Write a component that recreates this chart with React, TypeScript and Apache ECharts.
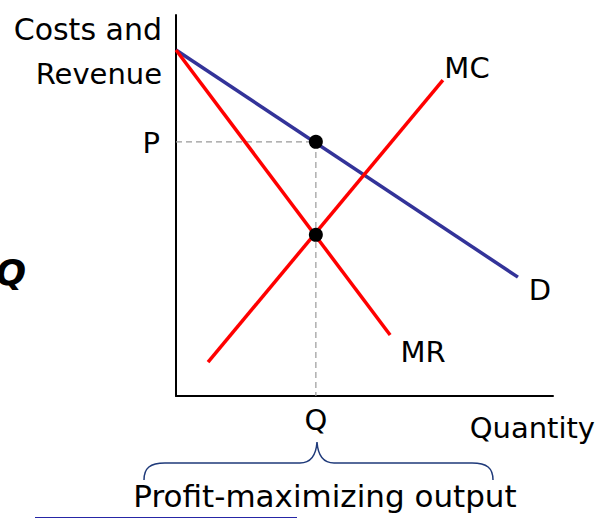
import React, { useEffect, useRef } from "react";
import * as echarts from "echarts";

// Data in chart units (x: quantity 0..10, y: costs/revenue 0..10)
const demandCurve: number[][] = [[0, 9.08], [9.07, 3.12]];
const marginalRevenue: number[][] = [[0, 9.08], [5.68, 1.6]];
const marginalCost: number[][] = [[0.85, 0.89], [7.08, 8.29]];
const equilibriumPoints: number[][] = [[3.71, 6.67], [3.71, 4.23]];
const priceGuide: number[][] = [[0, 6.67], [3.71, 6.67], [3.71, 0]];

const FONT = "DejaVu Sans";

echarts.graphic.registerShape(
  "brace",
  echarts.graphic.extendPath(
    "M144,480 C144,468 150,463 165,463 L300,463 C311,463 316,456 317,442 C318,456 323,463 334,463 L472,463 C487,463 493,468 493,480",
    {}
  )
);

export default function App() {
  const ref = useRef<HTMLDivElement>(null);
  useEffect(() => {
    if (!ref.current) return;
    const chart = echarts.init(ref.current, null, { renderer: "svg" });
    const txt = (text: string, x: number, y: number, align: string, size = 29, extra: any = {}) => ({
      type: "text",
      x,
      y,
      style: {
        text,
        fontSize: size,
        fontFamily: FONT,
        fill: "#000",
        align,
        verticalAlign: "middle",
        ...extra,
      },
    });
    chart.setOption({
      animation: false,
      backgroundColor: "#fff",
      grid: { left: 176, right: 45, top: 15, bottom: 123 },
      xAxis: {
        type: "value",
        min: 0,
        max: 10,
        axisLine: { show: true, lineStyle: { color: "#000", width: 2 } },
        axisTick: { show: false },
        axisLabel: { show: false },
        splitLine: { show: false },
      },
      yAxis: {
        type: "value",
        min: 0,
        max: 10,
        axisLine: { show: true, lineStyle: { color: "#000", width: 2 } },
        axisTick: { show: false },
        axisLabel: { show: false },
        splitLine: { show: false },
      },
      series: [
        {
          type: "line",
          data: priceGuide,
          symbol: "none",
          lineStyle: { color: "#999", width: 1.2, type: [6, 4] },
          z: 1,
        },
        {
          type: "line",
          data: demandCurve,
          symbol: "none",
          lineStyle: { color: "#333399", width: 3.5 },
          z: 2,
        },
        {
          type: "line",
          data: marginalRevenue,
          symbol: "none",
          lineStyle: { color: "#ff0000", width: 3.5 },
          z: 3,
        },
        {
          type: "line",
          data: marginalCost,
          symbol: "none",
          lineStyle: { color: "#ff0000", width: 3.5 },
          z: 3,
        },
        {
          type: "scatter",
          data: equilibriumPoints,
          symbol: "circle",
          symbolSize: 14,
          itemStyle: { color: "#000", opacity: 1 },
          z: 5,
        },
      ],
      graphic: [
        txt("Costs and", 162, 29, "right", 30),
        txt("Revenue", 162, 74, "right"),
        txt("P", 160, 143, "right"),
        txt("MC", 467, 68, "center"),
        txt("D", 540, 290, "center"),
        txt("MR", 423, 352, "center"),
        txt("Q", 316, 420, "center"),
        txt("Quantity", 595, 428, "right", 29),
        txt("Q", 26, 272, "right", 36, { fontWeight: "bold", fontStyle: "italic" }),
        txt("Profit-maximizing output", 325, 496, "center", 31),
        {
          type: "brace",
          x: 0,
          y: 0,
          style: { fill: "none", stroke: "#1f3a7a", lineWidth: 1.5 },
        },
        {
          type: "line",
          shape: { x1: 35, y1: 517.5, x2: 297, y2: 517.5 },
          style: { stroke: "#2626a6", lineWidth: 1.2 },
        },
      ],
    });
    return () => chart.dispose();
  }, []);
  return (
    <div
      ref={ref}
      style={{ position: "fixed", left: 0, top: 0, width: 598, height: 519 }}
    />
  );
}
